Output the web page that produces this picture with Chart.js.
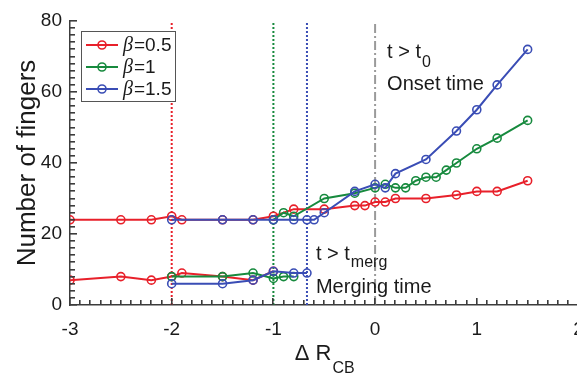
<!DOCTYPE html>
<html>
<head>
<meta charset="utf-8">
<script src="https://cdn.jsdelivr.net/npm/chart.js@4.4.0/dist/chart.umd.min.js"></script>
<style>
  html, body { margin: 0; padding: 0; background: #fff; overflow: hidden; }
  #wrap { position: relative; width: 600px; height: 373px; }
  canvas { display: block; }
</style>
</head>
<body>
<div id="wrap"><canvas id="chart" width="600" height="373"></canvas></div>
<script>
// Number of fingers vs Delta R_CB

const betaLabels = ['0.5', '1', '1.5'];
const seriesColors = ['#e8202a', '#178a3e', '#3a4db5'];

// upper branch (t > t0, onset time)
const redUpperX = [-3, -2.5, -2.2, -2, -1.9, -1.5, -1.2, -1, -0.8, -0.5, -0.2, -0.1, 0, 0.1, 0.2, 0.5, 0.8, 1, 1.2, 1.5];
const redUpperY = [24, 24, 24, 25, 24, 24, 24, 25, 27, 27, 28, 28, 29, 29, 30, 30, 31, 32, 32, 35];
const greenUpperX = [-1, -0.9, -0.8, -0.5, -0.2, 0, 0.1, 0.2, 0.3, 0.4, 0.5, 0.6, 0.7, 0.8, 1, 1.2, 1.5];
const greenUpperY = [24, 26, 25, 30, 31.5, 33, 34, 33, 33, 35, 36, 36, 38, 40, 44, 47, 52];
const blueUpperX = [-2, -1.5, -1.2, -1, -0.8, -0.67, -0.6, -0.5, -0.2, 0, 0.1, 0.2, 0.5, 0.8, 1, 1.2, 1.5];
const blueUpperY = [24, 24, 24, 24, 24, 24, 24, 26, 32, 34, 33, 37, 41, 49, 55, 62, 72];

// lower branch (t > t_merg, merging time)
const redLowerX = [-3, -2.5, -2.2, -2, -1.9, -1.5, -1.2, -1];
const redLowerY = [7, 8, 7, 8, 9, 8, 7, 9.5];
const greenLowerX = [-2, -1.5, -1.2, -1, -0.9, -0.8];
const greenLowerY = [8, 8, 9, 7.5, 8, 8];
const blueLowerX = [-2, -1.5, -1.2, -1, -0.8, -0.67];
const blueLowerY = [6, 6, 7, 9.5, 9, 9];

// vertical markers: merging thresholds per beta, then the onset line
const markerX = [-2, -1, -0.67, 0];
const markerColors = ['#e8202a', '#178a3e', '#3a4db5', '#9a9a9a'];

const xTicks = [-3, -2, -1, 0, 1, 2];
const yTicks = [0, 20, 40, 60, 80];
const xMinorStep = 0.1;
const yMinorStep = 2;

const axisColor = '#3c3c3c';
const textColor = '#1a1a1a';
const sans = '"Liberation Sans", Arial, Helvetica, sans-serif';

function toPoints(xs, ys) {
    return xs.map((v, i) => ({ x: v, y: ys[i] }));
}

function seriesDataset(xs, ys, colorIndex, order) {
    return {
        data: toPoints(xs, ys),
        borderColor: seriesColors[colorIndex],
        backgroundColor: 'rgba(255,255,255,0)',
        borderWidth: 2,
        pointRadius: 4,
        pointBorderWidth: 1.6,
        pointBackgroundColor: 'rgba(255,255,255,0)',
        pointBorderColor: seriesColors[colorIndex],
        tension: 0,
        order: order
    };
}

function markerDataset(i) {
    return {
        data: [{ x: markerX[i], y: yTicks[0] }, { x: markerX[i], y: yTicks[yTicks.length - 1] }],
        borderColor: markerColors[i],
        borderWidth: 2,
        borderDash: i === 3 ? [9, 3, 2, 3] : [2, 2],
        pointRadius: 0,
        order: 10
    };
}

function drawSub(ctx, x, y, main, sub, size, subSize, drop) {
    ctx.font = size + 'px ' + sans;
    ctx.fillText(main, x, y);
    const w = ctx.measureText(main).width;
    ctx.font = subSize + 'px ' + sans;
    ctx.fillText(sub, x + w + 1, y + drop);
}

const extras = {
    id: 'extras',
    afterDraw(chart) {
        const { ctx, chartArea, scales } = chart;
        const xs = scales.x, ys = scales.y;
        ctx.save();
        ctx.setLineDash([]);

        // inward ticks, MATLAB style
        ctx.fillStyle = axisColor;
        const bottom = Math.round(chartArea.bottom);
        const left = Math.round(chartArea.left);
        const nx = Math.round((xs.max - xs.min) / xMinorStep);
        for (let i = 0; i <= nx; i++) {
            const px = Math.round(xs.getPixelForValue(xs.min + i * xMinorStep));
            const len = i % 10 === 0 ? 7 : 5;
            ctx.fillRect(px - 1, bottom - len, 1.6, len);
        }
        const ny = Math.round((ys.max - ys.min) / yMinorStep);
        for (let i = 0; i <= ny; i++) {
            const py = Math.round(ys.getPixelForValue(ys.min + i * yMinorStep));
            const len = i % 10 === 0 ? 7 : 5;
            ctx.fillRect(left, py - 1, len, 1.6);
        }

        // annotations
        ctx.fillStyle = textColor;
        ctx.textAlign = 'left';
        ctx.textBaseline = 'alphabetic';
        const onsetX = xs.getPixelForValue(markerX[3]) + 12;
        drawSub(ctx, onsetX, ys.getPixelForValue(69.6), 't > t', '0', 20, 16, 9);
        ctx.font = '20px ' + sans;
        ctx.fillText('Onset time', onsetX, ys.getPixelForValue(60.6));
        const mergX = xs.getPixelForValue(markerX[2]) + 9;
        drawSub(ctx, mergX, ys.getPixelForValue(12.7), 't > t', 'merg', 20, 16, 7);
        ctx.font = '20px ' + sans;
        ctx.fillText('Merging time', mergX, ys.getPixelForValue(3.4));

        // x axis title
        const midX = (chartArea.left + chartArea.right) / 2;
        const main = '\u0394 R';
        ctx.font = '22px ' + sans;
        const mw = ctx.measureText(main).width;
        ctx.font = '16px ' + sans;
        const sw = ctx.measureText('CB').width;
        drawSub(ctx, midX - (mw + sw) / 2, 360, main, 'CB', 22, 16, 13);

        // legend box
        const bx = chartArea.left + 11, by = chartArea.top + 10, bw = 94, bh = 70;
        ctx.fillStyle = '#fff';
        ctx.fillRect(bx, by, bw, bh);
        ctx.strokeStyle = '#555';
        ctx.lineWidth = 1;
        ctx.strokeRect(bx + 0.5, by + 0.5, bw, bh);
        betaLabels.forEach((lab, i) => {
            const cy = by + 14 + i * 22;
            ctx.strokeStyle = seriesColors[i];
            ctx.lineWidth = 2;
            ctx.beginPath();
            ctx.moveTo(bx + 5, cy);
            ctx.lineTo(bx + 37, cy);
            ctx.stroke();
            ctx.lineWidth = 1.6;
            ctx.beginPath();
            ctx.arc(bx + 21, cy, 4, 0, Math.PI * 2);
            ctx.stroke();
            ctx.fillStyle = textColor;
            ctx.textBaseline = 'middle';
            ctx.font = 'italic 20px "Liberation Serif", "Times New Roman", serif';
            ctx.fillText('\u03b2', bx + 42, cy + 1);
            const bwid = ctx.measureText('\u03b2').width;
            ctx.font = '19px ' + sans;
            ctx.fillText('=' + lab, bx + 42 + bwid + 1, cy + 1);
        });
        ctx.restore();
    }
};

const datasets = [
    markerDataset(0), markerDataset(1), markerDataset(2), markerDataset(3),
    seriesDataset(redUpperX, redUpperY, 0, 3),
    seriesDataset(redLowerX, redLowerY, 0, 3),
    seriesDataset(greenUpperX, greenUpperY, 1, 2),
    seriesDataset(greenLowerX, greenLowerY, 1, 2),
    seriesDataset(blueUpperX, blueUpperY, 2, 1),
    seriesDataset(blueLowerX, blueLowerY, 2, 1)
];

new Chart(document.getElementById('chart'), {
    type: 'line',
    data: { datasets: datasets },
    options: {
        responsive: false,
        animation: false,
        events: [],
        layout: { padding: { top: 21, right: 21.5, bottom: 0, left: 0 } },
        plugins: {
            legend: { display: false },
            tooltip: { enabled: false }
        },
        scales: {
            x: {
                type: 'linear',
                min: xTicks[0],
                max: xTicks[xTicks.length - 1],
                afterBuildTicks: function(scale) {
                    scale.ticks = xTicks.map(v => ({ value: v }));
                },
                grid: { display: true, drawOnChartArea: false, drawTicks: false, color: 'rgba(0,0,0,0)' },
                border: { display: true, color: axisColor, width: 1.5 },
                ticks: {
                    color: textColor,
                    padding: 13,
                    font: { family: sans, size: 19 },
                    maxRotation: 0,
                    autoSkip: false
                },
                afterFit: function(scale) { scale.height = 68; }
            },
            y: {
                type: 'linear',
                min: yTicks[0],
                max: yTicks[yTicks.length - 1],
                afterBuildTicks: function(scale) {
                    scale.ticks = yTicks.map(v => ({ value: v }));
                },
                grid: { display: true, drawOnChartArea: false, drawTicks: false, color: 'rgba(0,0,0,0)' },
                border: { display: true, color: axisColor, width: 1.5 },
                ticks: {
                    color: textColor,
                    padding: 8,
                    font: { family: sans, size: 19 }
                },
                title: {
                    display: true,
                    text: 'Number of fingers',
                    color: textColor,
                    font: { family: sans, size: 26 },
                    padding: { top: 12, bottom: 0 }
                },
                afterFit: function(scale) { scale.width = 70; }
            }
        }
    },
    plugins: [extras]
});
</script>
</body>
</html>
